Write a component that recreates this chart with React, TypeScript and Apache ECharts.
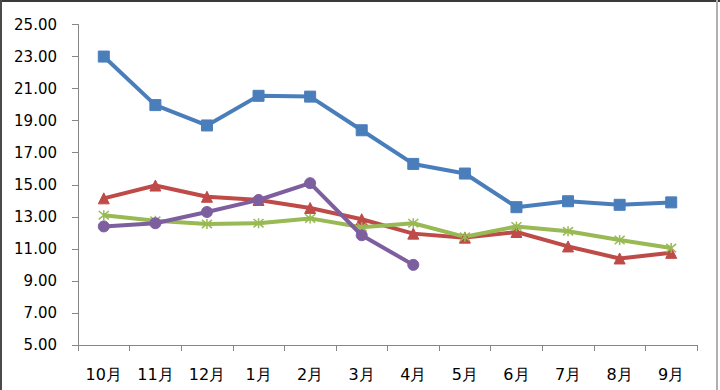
import React, { useEffect, useRef } from "react";
import * as echarts from "echarts";

const categories = ["10月", "11月", "12月", "1月", "2月", "3月", "4月", "5月", "6月", "7月", "8月", "9月"];
const blueValues = [23.0, 19.97, 18.7, 20.55, 20.5, 18.4, 16.3, 15.7, 13.6, 13.97, 13.75, 13.9];
const redValues = [14.15, 14.95, 14.25, 14.05, 13.55, 12.85, 11.95, 11.7, 12.05, 11.15, 10.4, 10.75];
const greenValues = [13.1, 12.75, 12.55, 12.6, 12.9, 12.35, 12.6, 11.75, 12.4, 12.1, 11.55, 11.05];
const purpleValues = [12.4, 12.6, 13.3, 14.05, 15.1, 11.85, 10.0];
const yTicks = { min: 5, max: 25, interval: 2 };

const starPath = "path://M0,0L10,10M10,0L0,10M5,-1L5,11";

export default function App() {
  const ref = useRef<HTMLDivElement>(null);
  useEffect(() => {
    document.body.style.margin = "0";
    const chart = echarts.init(ref.current!, null, { renderer: "svg" });
    const font = "DejaVu Sans";
    const mk = (name: string, data: number[], color: string, symbol: string, size: number, extra: any = {}) => ({
      name,
      type: "line",
      data,
      symbol,
      symbolSize: size,
      showSymbol: true,
      lineStyle: { color, width: 4 },
      itemStyle: { color, borderColor: color, borderWidth: 1, ...(extra.itemStyle || {}) },
      z: extra.z || 2,
    });
    chart.setOption({
      animation: false,
      backgroundColor: "#ffffff",
      grid: { left: 78, right: 23, top: 24.5, bottom: 45, containLabel: false },
      xAxis: {
        type: "category",
        data: categories,
        boundaryGap: true,
        axisLine: { lineStyle: { color: "#868686", width: 1 } },
        axisTick: { show: true, length: 6, inside: false, lineStyle: { color: "#868686" } },
        axisLabel: { color: "#000", fontFamily: font, fontSize: 16, margin: 21 },
        splitLine: { show: false },
      },
      yAxis: {
        type: "value",
        min: yTicks.min,
        max: yTicks.max,
        interval: yTicks.interval,
        axisLine: { show: true, lineStyle: { color: "#868686", width: 1 } },
        axisTick: { show: true, length: 6, lineStyle: { color: "#868686" } },
        axisLabel: {
          color: "#000",
          fontFamily: font,
          fontSize: 15,
          margin: 21,
          formatter: (v: number) => v.toFixed(2),
        },
        splitLine: { show: false },
      },
      series: [
        mk("A", blueValues, "#4A7EBB", "rect", 11),
        mk("B", redValues, "#BE4B48", "triangle", 11),
        mk("C", greenValues, "#98B954", starPath, 10, { itemStyle: { borderWidth: 1.5 } }),
        mk("D", purpleValues, "#7D5FA0", "circle", 11, { z: 3 }),
      ],
      graphic: [
        { type: "rect", shape: { x: 0, y: 0, width: 720, height: 2 }, style: { fill: "#3a3a3a" }, silent: true },
        { type: "rect", shape: { x: 0, y: 0, width: 2, height: 390 }, style: { fill: "#4a4a4a" }, silent: true },
        { type: "rect", shape: { x: 716, y: 0, width: 2, height: 390 }, style: { fill: "#b0b0b0" }, silent: true },
      ],
    });
    return () => chart.dispose();
  }, []);
  return <div ref={ref} style={{ width: 720, height: 390 }} />;
}
